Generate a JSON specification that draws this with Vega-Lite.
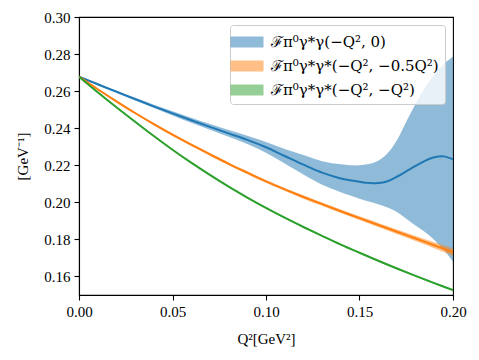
{
  "$schema": "https://vega.github.io/schema/vega-lite/v6.json",
  "autosize": "none",
  "width": 374,
  "height": 278,
  "padding": {"left": 79, "top": 17, "right": 26, "bottom": 65},
  "background": "white",
  "config": {
    "font": "Liberation Serif",
    "view": {"stroke": "black", "strokeWidth": 1.1},
    "axis": {
      "grid": false, "domainColor": "black", "domainWidth": 1.1, "tickColor": "black", "tickWidth": 1.1, "tickSize": 5,
      "labelFont": "Liberation Serif", "labelFontSize": 15, "labelColor": "black", "labelPadding": 4, "labelOverlap": false, "labelFlush": false,
      "titleFont": "Liberation Serif", "titleFontSize": 15, "titleFontWeight": "normal", "titleColor": "black"
    },
    "legend": {
      "orient": "top-right", "offset": 8, "padding": 6, "fillColor": "rgba(255,255,255,0.8)", "strokeColor": "#cccccc",
      "cornerRadius": 3, "labelFont": "DejaVu Serif", "labelFontSize": 15, "labelColor": "black",
      "rowPadding": 5, "labelOffset": 13, "labelLimit": 300,
      "symbolType": "M-1.5,-0.5H1.5V0.5H-1.5Z", "symbolSize": 484, "symbolOpacity": 0.5, "symbolStrokeWidth": 0
    }
  },
  "data": {"values": [
    {"s":"ℱπ⁰γ*γ(−Q², 0)","x":0.00,"lo":0.2673,"m":0.2678,"hi":0.2683},
    {"s":"ℱπ⁰γ*γ(−Q², 0)","x":0.01,"lo":0.2631,"m":0.2637,"hi":0.2643},
    {"s":"ℱπ⁰γ*γ(−Q², 0)","x":0.02,"lo":0.2590,"m":0.2597,"hi":0.2604},
    {"s":"ℱπ⁰γ*γ(−Q², 0)","x":0.03,"lo":0.2549,"m":0.2557,"hi":0.2565},
    {"s":"ℱπ⁰γ*γ(−Q², 0)","x":0.04,"lo":0.2509,"m":0.2518,"hi":0.2527},
    {"s":"ℱπ⁰γ*γ(−Q², 0)","x":0.05,"lo":0.2469,"m":0.2480,"hi":0.2491},
    {"s":"ℱπ⁰γ*γ(−Q², 0)","x":0.06,"lo":0.2430,"m":0.2443,"hi":0.2456},
    {"s":"ℱπ⁰γ*γ(−Q², 0)","x":0.07,"lo":0.2392,"m":0.2407,"hi":0.2422},
    {"s":"ℱπ⁰γ*γ(−Q², 0)","x":0.08,"lo":0.2354,"m":0.2372,"hi":0.2390},
    {"s":"ℱπ⁰γ*γ(−Q², 0)","x":0.09,"lo":0.2315,"m":0.2337,"hi":0.2359},
    {"s":"ℱπ⁰γ*γ(−Q², 0)","x":0.10,"lo":0.2268,"m":0.2297,"hi":0.2325},
    {"s":"ℱπ⁰γ*γ(−Q², 0)","x":0.11,"lo":0.2210,"m":0.2250,"hi":0.2288},
    {"s":"ℱπ⁰γ*γ(−Q², 0)","x":0.12,"lo":0.2150,"m":0.2203,"hi":0.2255},
    {"s":"ℱπ⁰γ*γ(−Q², 0)","x":0.13,"lo":0.2095,"m":0.2160,"hi":0.2222},
    {"s":"ℱπ⁰γ*γ(−Q², 0)","x":0.14,"lo":0.2055,"m":0.2129,"hi":0.2205},
    {"s":"ℱπ⁰γ*γ(−Q², 0)","x":0.145,"lo":0.2037,"m":0.2119,"hi":0.2200},
    {"s":"ℱπ⁰γ*γ(−Q², 0)","x":0.15,"lo":0.2020,"m":0.2111,"hi":0.2200},
    {"s":"ℱπ⁰γ*γ(−Q², 0)","x":0.155,"lo":0.2005,"m":0.2105,"hi":0.2207},
    {"s":"ℱπ⁰γ*γ(−Q², 0)","x":0.16,"lo":0.1990,"m":0.2104,"hi":0.2225},
    {"s":"ℱπ⁰γ*γ(−Q², 0)","x":0.165,"lo":0.1972,"m":0.2114,"hi":0.2265},
    {"s":"ℱπ⁰γ*γ(−Q², 0)","x":0.17,"lo":0.1948,"m":0.2138,"hi":0.2335},
    {"s":"ℱπ⁰γ*γ(−Q², 0)","x":0.175,"lo":0.1912,"m":0.2167,"hi":0.2435},
    {"s":"ℱπ⁰γ*γ(−Q², 0)","x":0.18,"lo":0.1875,"m":0.2197,"hi":0.2532},
    {"s":"ℱπ⁰γ*γ(−Q², 0)","x":0.185,"lo":0.1840,"m":0.2224,"hi":0.2618},
    {"s":"ℱπ⁰γ*γ(−Q², 0)","x":0.19,"lo":0.1797,"m":0.2243,"hi":0.2690},
    {"s":"ℱπ⁰γ*γ(−Q², 0)","x":0.195,"lo":0.1745,"m":0.2248,"hi":0.2745},
    {"s":"ℱπ⁰γ*γ(−Q², 0)","x":0.20,"lo":0.1680,"m":0.2232,"hi":0.2785},
    {"s":"ℱπ⁰γ*γ*(−Q², −0.5Q²)","x":0.00,"lo":0.2673,"m":0.2678,"hi":0.2683},
    {"s":"ℱπ⁰γ*γ*(−Q², −0.5Q²)","x":0.01,"lo":0.2605,"m":0.2610,"hi":0.2615},
    {"s":"ℱπ⁰γ*γ*(−Q², −0.5Q²)","x":0.02,"lo":0.2539,"m":0.2545,"hi":0.2551},
    {"s":"ℱπ⁰γ*γ*(−Q², −0.5Q²)","x":0.03,"lo":0.2476,"m":0.2482,"hi":0.2488},
    {"s":"ℱπ⁰γ*γ*(−Q², −0.5Q²)","x":0.04,"lo":0.2416,"m":0.2422,"hi":0.2428},
    {"s":"ℱπ⁰γ*γ*(−Q², −0.5Q²)","x":0.05,"lo":0.2358,"m":0.2365,"hi":0.2372},
    {"s":"ℱπ⁰γ*γ*(−Q², −0.5Q²)","x":0.06,"lo":0.2304,"m":0.2311,"hi":0.2318},
    {"s":"ℱπ⁰γ*γ*(−Q², −0.5Q²)","x":0.07,"lo":0.2252,"m":0.2259,"hi":0.2266},
    {"s":"ℱπ⁰γ*γ*(−Q², −0.5Q²)","x":0.08,"lo":0.2201,"m":0.2208,"hi":0.2215},
    {"s":"ℱπ⁰γ*γ*(−Q², −0.5Q²)","x":0.09,"lo":0.2152,"m":0.2160,"hi":0.2168},
    {"s":"ℱπ⁰γ*γ*(−Q², −0.5Q²)","x":0.10,"lo":0.2105,"m":0.2113,"hi":0.2121},
    {"s":"ℱπ⁰γ*γ*(−Q², −0.5Q²)","x":0.11,"lo":0.2062,"m":0.2070,"hi":0.2078},
    {"s":"ℱπ⁰γ*γ*(−Q², −0.5Q²)","x":0.12,"lo":0.2020,"m":0.2029,"hi":0.2038},
    {"s":"ℱπ⁰γ*γ*(−Q², −0.5Q²)","x":0.13,"lo":0.1981,"m":0.1990,"hi":0.1999},
    {"s":"ℱπ⁰γ*γ*(−Q², −0.5Q²)","x":0.14,"lo":0.1942,"m":0.1952,"hi":0.1962},
    {"s":"ℱπ⁰γ*γ*(−Q², −0.5Q²)","x":0.15,"lo":0.1905,"m":0.1915,"hi":0.1925},
    {"s":"ℱπ⁰γ*γ*(−Q², −0.5Q²)","x":0.16,"lo":0.1867,"m":0.1878,"hi":0.1889},
    {"s":"ℱπ⁰γ*γ*(−Q², −0.5Q²)","x":0.17,"lo":0.1829,"m":0.1841,"hi":0.1853},
    {"s":"ℱπ⁰γ*γ*(−Q², −0.5Q²)","x":0.18,"lo":0.1791,"m":0.1805,"hi":0.1819},
    {"s":"ℱπ⁰γ*γ*(−Q², −0.5Q²)","x":0.19,"lo":0.1752,"m":0.1768,"hi":0.1784},
    {"s":"ℱπ⁰γ*γ*(−Q², −0.5Q²)","x":0.20,"lo":0.1711,"m":0.1731,"hi":0.1751},
    {"s":"ℱπ⁰γ*γ*(−Q², −Q²)","x":0.00,"lo":0.2674,"m":0.2678,"hi":0.2682},
    {"s":"ℱπ⁰γ*γ*(−Q², −Q²)","x":0.01,"lo":0.2590,"m":0.2594,"hi":0.2598},
    {"s":"ℱπ⁰γ*γ*(−Q², −Q²)","x":0.02,"lo":0.2509,"m":0.2513,"hi":0.2517},
    {"s":"ℱπ⁰γ*γ*(−Q², −Q²)","x":0.03,"lo":0.2431,"m":0.2435,"hi":0.2439},
    {"s":"ℱπ⁰γ*γ*(−Q², −Q²)","x":0.04,"lo":0.2354,"m":0.2358,"hi":0.2362},
    {"s":"ℱπ⁰γ*γ*(−Q², −Q²)","x":0.05,"lo":0.2280,"m":0.2284,"hi":0.2288},
    {"s":"ℱπ⁰γ*γ*(−Q², −Q²)","x":0.06,"lo":0.2210,"m":0.2214,"hi":0.2218},
    {"s":"ℱπ⁰γ*γ*(−Q², −Q²)","x":0.07,"lo":0.2144,"m":0.2148,"hi":0.2152},
    {"s":"ℱπ⁰γ*γ*(−Q², −Q²)","x":0.08,"lo":0.2081,"m":0.2085,"hi":0.2089},
    {"s":"ℱπ⁰γ*γ*(−Q², −Q²)","x":0.09,"lo":0.2022,"m":0.2026,"hi":0.2030},
    {"s":"ℱπ⁰γ*γ*(−Q², −Q²)","x":0.10,"lo":0.1966,"m":0.1970,"hi":0.1974},
    {"s":"ℱπ⁰γ*γ*(−Q², −Q²)","x":0.11,"lo":0.1913,"m":0.1917,"hi":0.1921},
    {"s":"ℱπ⁰γ*γ*(−Q², −Q²)","x":0.12,"lo":0.1863,"m":0.1867,"hi":0.1871},
    {"s":"ℱπ⁰γ*γ*(−Q², −Q²)","x":0.13,"lo":0.1815,"m":0.1819,"hi":0.1823},
    {"s":"ℱπ⁰γ*γ*(−Q², −Q²)","x":0.14,"lo":0.1768,"m":0.1772,"hi":0.1776},
    {"s":"ℱπ⁰γ*γ*(−Q², −Q²)","x":0.15,"lo":0.1724,"m":0.1728,"hi":0.1732},
    {"s":"ℱπ⁰γ*γ*(−Q², −Q²)","x":0.16,"lo":0.1681,"m":0.1685,"hi":0.1689},
    {"s":"ℱπ⁰γ*γ*(−Q², −Q²)","x":0.17,"lo":0.1639,"m":0.1643,"hi":0.1647},
    {"s":"ℱπ⁰γ*γ*(−Q², −Q²)","x":0.18,"lo":0.1599,"m":0.1603,"hi":0.1607},
    {"s":"ℱπ⁰γ*γ*(−Q², −Q²)","x":0.19,"lo":0.1559,"m":0.1564,"hi":0.1569},
    {"s":"ℱπ⁰γ*γ*(−Q², −Q²)","x":0.20,"lo":0.1521,"m":0.1526,"hi":0.1531}
  ]},
  "encoding": {
    "x": {"field": "x", "type": "quantitative",
      "scale": {"domain": [0, 0.2], "nice": false, "zero": false},
      "axis": {"values": [0, 0.05, 0.1, 0.15, 0.2], "format": ".2f", "title": "Q²[GeV²]", "titlePadding": 12}},
    "color": {"field": "s", "type": "nominal",
      "scale": {"domain": ["ℱπ⁰γ*γ(−Q², 0)", "ℱπ⁰γ*γ*(−Q², −0.5Q²)", "ℱπ⁰γ*γ*(−Q², −Q²)"], "range": ["#1f77b4", "#ff7f0e", "#2ca02c"]},
      "legend": {"title": null}}
  },
  "layer": [
    {
      "mark": {"type": "area", "opacity": 0.5, "interpolate": "catmull-rom", "clip": true},
      "encoding": {
        "y": {"field": "lo", "type": "quantitative",
          "scale": {"domain": [0.15, 0.30], "nice": false, "zero": false},
          "axis": {"values": [0.16, 0.18, 0.2, 0.22, 0.24, 0.26, 0.28, 0.30], "format": ".2f", "title": "[GeV⁻¹]", "titlePadding": 13}},
        "y2": {"field": "hi"}
      }
    },
    {
      "mark": {"type": "line", "strokeWidth": 2, "interpolate": "catmull-rom", "clip": true},
      "encoding": {
        "y": {"field": "m", "type": "quantitative",
          "scale": {"domain": [0.15, 0.30], "nice": false, "zero": false},
          "axis": {"values": [0.16, 0.18, 0.2, 0.22, 0.24, 0.26, 0.28, 0.30], "format": ".2f", "title": "[GeV⁻¹]", "titlePadding": 13}}
      }
    }
  ]
}
